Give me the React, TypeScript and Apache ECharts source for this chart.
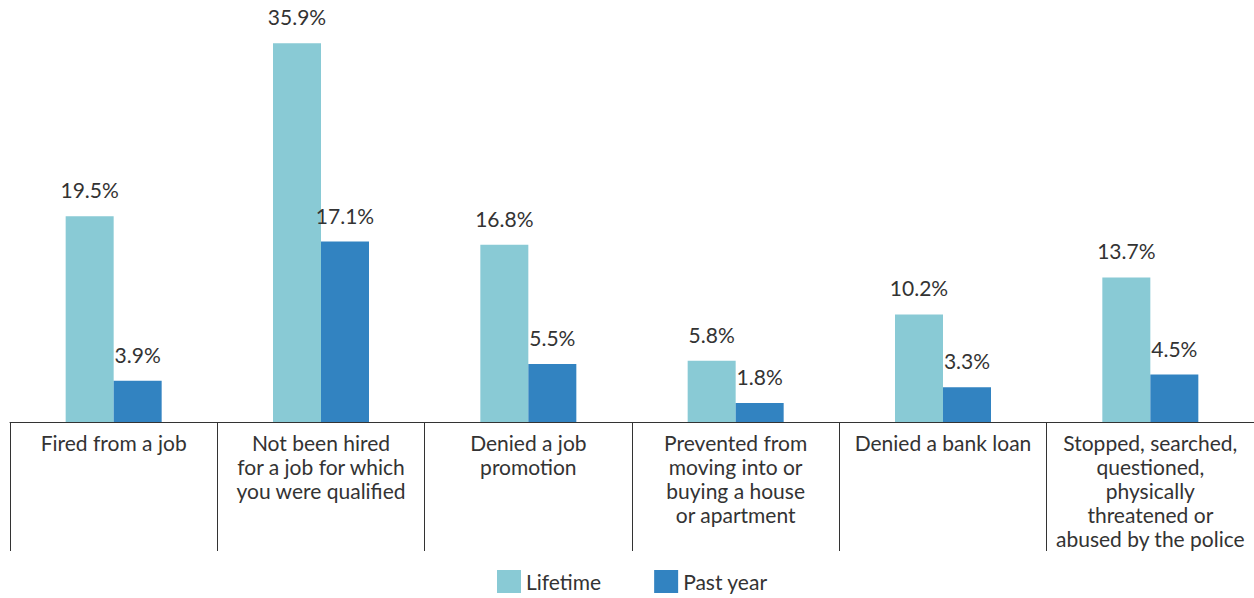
import React, { useEffect, useRef } from "react";
import * as echarts from "echarts";

const categories = [
  "Fired from a job",
  "Not been hired\nfor a job for which\nyou were qualified",
  "Denied a job\npromotion",
  "Prevented from\nmoving into or\nbuying a house\nor apartment",
  "Denied a bank loan",
  "Stopped, searched,\nquestioned,\nphysically\nthreatened or\nabused by the police",
];
const lifetime = [19.5, 35.9, 16.8, 5.8, 10.2, 13.7];
const pastYear = [3.9, 17.1, 5.5, 1.8, 3.3, 4.5];

const FONT = "Lato, 'Open Sans', sans-serif";

export default function App() {
  const ref = useRef<HTMLDivElement>(null);
  useEffect(() => {
    document.body.style.margin = "0";
    const chart = echarts.init(ref.current!, null, { renderer: "svg" });
    const label = {
      show: true,
      position: "top",
      distance: 16,
      fontSize: 21,
      fontFamily: FONT,
      color: "#333",
      formatter: (p: any) => p.value.toFixed(1) + "%",
    };
    chart.setOption({
      animation: false,
      textStyle: { fontFamily: FONT },
      grid: { left: 10, width: 1245, top: 0, bottom: 176, containLabel: false },
      legend: {
        bottom: 0,
        left: 492,
        itemWidth: 24,
        itemHeight: 23,
        itemGap: 53,
        icon: "rect",
        textStyle: { fontSize: 21, color: "#333", fontFamily: FONT },
        data: ["Lifetime", "Past year"],
      },
      xAxis: {
        type: "category",
        data: categories,
        axisLine: { lineStyle: { color: "#333", width: 1 } },
        axisTick: { show: true, length: 129, lineStyle: { color: "#333" } },
        axisLabel: {
          interval: 0,
          margin: 8,
          fontSize: 21,
          lineHeight: 24,
          color: "#333",
          fontFamily: FONT,
          verticalAlign: "top",
        },
      },
      yAxis: {
        type: "value",
        min: 0,
        max: 40,
        show: false,
        splitLine: { show: false },
      },
      series: [
        {
          name: "Lifetime",
          type: "bar",
          data: lifetime,
          barWidth: 48,
          barGap: "0%",
          itemStyle: { color: "#89CAD5" },
          label,
        },
        {
          name: "Past year",
          type: "bar",
          data: pastYear,
          barWidth: 48,
          barGap: "0%",
          itemStyle: { color: "#3283C1" },
          label,
        },
      ],
    });
    return () => chart.dispose();
  }, []);
  return <div ref={ref} style={{ width: 1254, height: 598 }} />;
}
